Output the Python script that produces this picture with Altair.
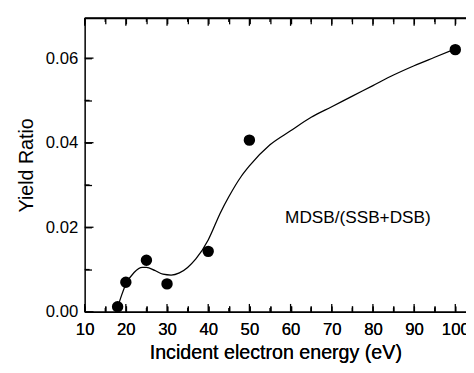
import altair as alt
import pandas as pd

# measured data points
energy_pts = [18, 20, 25, 30, 40, 50, 100]
ratio_pts = [0.0012, 0.0070, 0.0122, 0.0066, 0.0143, 0.0406, 0.0620]

# smooth fitted curve
energy_curve = [18, 19, 20, 22, 24, 25, 27, 29, 31, 33, 35, 37, 40, 43, 45, 48, 50,
                55, 60, 65, 70, 75, 80, 85, 90, 95, 100]
ratio_curve = [0.0010, 0.0040, 0.0065, 0.0093, 0.0105, 0.0105, 0.0098, 0.0089, 0.0087,
               0.0092, 0.0105, 0.0125, 0.0170, 0.0235, 0.0272, 0.0320, 0.0345,
               0.0395, 0.0428, 0.0460, 0.0485, 0.0510, 0.0535, 0.0560, 0.0582, 0.0602, 0.0622]

x_ticks = [10, 15, 20, 25, 30, 35, 40, 45, 50, 55, 60, 65, 70, 75, 80, 85, 90, 95, 100]
x_labels = ["10", "20", "30", "40", "50", "60", "70", "80", "90", "100"]
y_ticks = [0.00, 0.01, 0.02, 0.03, 0.04, 0.05, 0.06]
y_labels = ["0.00", "0.02", "0.04", "0.06"]

X_DOMAIN = [10, 102.6]
Y_DOMAIN = [0, 0.0695]

W, H = 388, 299
FONT = "Liberation Sans"
X_TITLE = "Incident electron energy (eV)"
Y_TITLE = "Yield Ratio"
ANNOT = "MDSB/(SSB+DSB)"

pts = pd.DataFrame({"energy": energy_pts, "ratio": ratio_pts})
curve = pd.DataFrame({"energy": energy_curve, "ratio": ratio_curve})

# frame tick segments (inward ticks + top frame line), lengths from pixel sizes via scale spans
ySpan = Y_DOMAIN[1] - Y_DOMAIN[0]
xSpan = X_DOMAIN[1] - X_DOMAIN[0]
segs = []
sid = 0
for e in x_ticks:
    ln = (8 if e % 10 == 0 else 4) / H * ySpan
    for y0, y1 in [(Y_DOMAIN[0], Y_DOMAIN[0] + ln), (Y_DOMAIN[1], Y_DOMAIN[1] - ln)]:
        segs += [{"seg": sid, "energy": e, "ratio": y0}, {"seg": sid, "energy": e, "ratio": y1}]
        sid += 1
for i, r in enumerate(y_ticks):
    ln = (9 if i % 2 == 0 else 5) / W * xSpan
    segs += [{"seg": sid, "energy": X_DOMAIN[0], "ratio": r},
             {"seg": sid, "energy": X_DOMAIN[0] + ln, "ratio": r}]
    sid += 1
segs += [{"seg": sid, "energy": X_DOMAIN[0], "ratio": Y_DOMAIN[1]},
         {"seg": sid, "energy": X_DOMAIN[1], "ratio": Y_DOMAIN[1]}]
seg_df = pd.DataFrame(segs)

xs = alt.Scale(domain=X_DOMAIN, nice=False, zero=False)
ys = alt.Scale(domain=Y_DOMAIN, nice=False, zero=False)

x_label_expr = "indexof(" + str(x_labels) + ", datum.label) >= 0 ? datum.label : ''"
y_label_expr = "indexof(" + str(y_labels) + ", datum.label) >= 0 ? datum.label : ''"

common = dict(grid=False, domainColor="black", domainWidth=1.5, tickColor="black",
              tickWidth=1.3, labelColor="black", titleColor="black",
              labelFont=FONT, titleFont=FONT, labelFontSize=17, titleFontSize=20,
              titleFontWeight="normal", labelFlush=False, labelOverlap=False)

x_bottom = alt.Axis(orient="bottom", values=x_ticks, format="d", labelExpr=x_label_expr,
                    tickSize={"expr": "-6"}, labelPadding=16, titlePadding=6, **common)
x_top = alt.Axis(orient="top", values=x_ticks, labels=False, title=None,
                 tickSize={"expr": "-6"}, **common)
y_left = alt.Axis(orient="left", values=y_ticks, format=".2f", labelExpr=y_label_expr,
                  tickSize={"expr": "-7"}, labelPadding=14, titlePadding=9, **common)

line = alt.Chart(curve).mark_line(color="black", strokeWidth=1.3, interpolate="monotone").encode(
    x=alt.X("energy:Q", scale=xs, axis=x_bottom, title=X_TITLE),
    y=alt.Y("ratio:Q", scale=ys, axis=y_left, title=Y_TITLE),
)

frame = alt.Chart(seg_df).mark_line(color="black", strokeWidth=1.3).encode(
    x=alt.X("energy:Q", scale=xs, axis=x_bottom, title=X_TITLE),
    y=alt.Y("ratio:Q", scale=ys, axis=y_left, title=Y_TITLE),
    detail="seg:N",
)

points = alt.Chart(pts).mark_circle(color="black", opacity=1, size=135).encode(
    x=alt.X("energy:Q", scale=xs, axis=x_top, title=None),
    y=alt.Y("ratio:Q", scale=ys, axis=y_left, title=Y_TITLE),
)

label = alt.Chart(pd.DataFrame({"t": [ANNOT]})).mark_text(
    fontSize=17.5, font=FONT, color="black", align="center", baseline="middle"
).encode(text="t:N", x=alt.value(278), y=alt.value(204))

chart = alt.layer(line, frame, points, label).properties(
    width=W, height=H,
    autosize=alt.AutoSizeParams(type="none"),
    padding={"left": 78, "top": 7, "right": 0, "bottom": 51},
).configure_view(stroke=None).configure(background="white")

chart.save("out.html", embed_options={"renderer": "svg", "actions": False})
